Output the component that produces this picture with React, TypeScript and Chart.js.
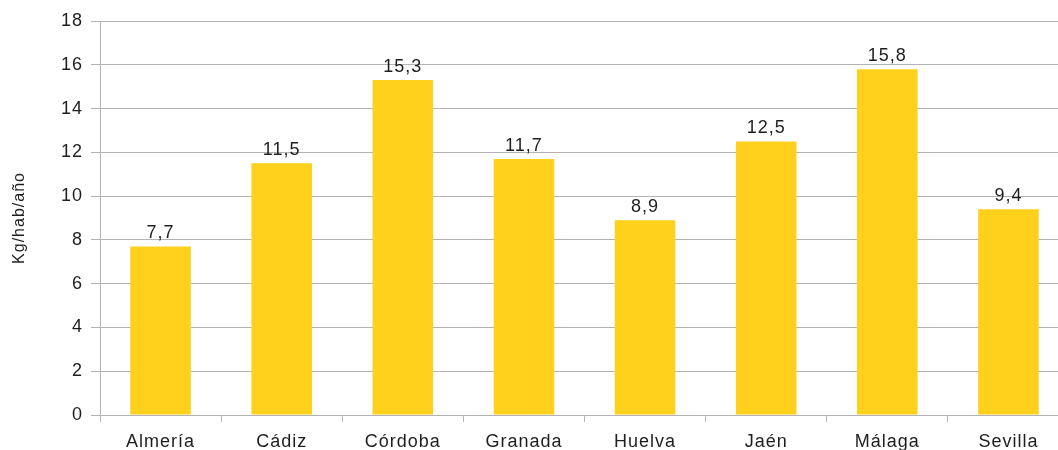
import React, { useEffect, useRef } from "react";
import { Chart, registerables } from "chart.js";

Chart.register(...registerables);

const categories = ["Almería", "Cádiz", "Córdoba", "Granada", "Huelva", "Jaén", "Málaga", "Sevilla"];
const values = [7.7, 11.5, 15.3, 11.7, 8.9, 12.5, 15.8, 9.4];
const yTicks = [0, 2, 4, 6, 8, 10, 12, 14, 16, 18];
const yTitle = "Kg/hab/año";

const FONT = "'Liberation Sans', Arial, sans-serif";
const TEXT = "#1e1e1e";
const GRID = "#b3b3b3";
const BAR = "#FFD01C";

const spacingPlugin = {
  id: "letterSpacing",
  beforeDraw(chart: any) {
    (chart.ctx as any).letterSpacing = "1px";
  },
};

const labelPlugin = {
  id: "valueLabels",
  afterDatasetsDraw(chart: any) {
    const ctx = chart.ctx;
    const meta = chart.getDatasetMeta(0);
    ctx.save();
    (ctx as any).letterSpacing = "1px";
    ctx.font = `18px ${FONT}`;
    ctx.fillStyle = TEXT;
    ctx.textAlign = "center";
    ctx.textBaseline = "alphabetic";
    meta.data.forEach((el: any, i: number) => {
      const v = chart.data.datasets[0].data[i];
      ctx.fillText(String(v).replace(".", ","), el.x, el.y - 8);
    });
    ctx.restore();
  },
};

export default function App() {
  const ref = useRef<HTMLCanvasElement | null>(null);
  useEffect(() => {
    if (!ref.current) return;
    const chart = new Chart(ref.current, {
      type: "bar",
      data: {
        labels: categories,
        datasets: [
          {
            data: values,
            backgroundColor: BAR,
            borderWidth: 0,
            barPercentage: 0.5,
            categoryPercentage: 1,
          },
        ],
      },
      options: {
        animation: false,
        responsive: true,
        maintainAspectRatio: false,
        layout: { padding: { top: 21, left: 0, right: 0, bottom: 0 } },
        plugins: { legend: { display: false }, tooltip: { enabled: false } },
        scales: {
          x: {
            grid: {
              offset: true,
              drawOnChartArea: false,
              drawTicks: true,
              tickLength: 7,
              color: GRID,
            },
            border: { color: GRID, width: 1 },
            ticks: {
              font: { family: FONT, size: 18 },
              color: TEXT,
              padding: 9,
              maxRotation: 0,
              autoSkip: false,
            },
            afterFit(scale: any) {
              scale.height = 35;
            },
          },
          y: {
            min: 0,
            max: 18,
            afterBuildTicks(scale: any) {
              scale.ticks = yTicks.map((v) => ({ value: v }));
            },
            grid: { color: GRID, tickLength: 9, drawTicks: true },
            border: { color: GRID, width: 1 },
            ticks: {
              font: { family: FONT, size: 18 },
              color: TEXT,
              padding: 8,
            },
            title: {
              display: true,
              text: yTitle,
              font: { family: FONT, size: 16 },
              color: TEXT,
              padding: { top: 10, bottom: 4 },
            },
            afterFit(scale: any) {
              scale.width = 100;
            },
          },
        },
      },
      plugins: [spacingPlugin, labelPlugin],
    });
    return () => chart.destroy();
  }, []);

  return (
    <div style={{ position: "absolute", left: 0, top: 0, width: 1058, height: 450, overflow: "hidden", background: "#fff" }}>
      <div style={{ position: "relative", width: 1069, height: 450 }}>
        <canvas ref={ref} />
      </div>
    </div>
  );
}
